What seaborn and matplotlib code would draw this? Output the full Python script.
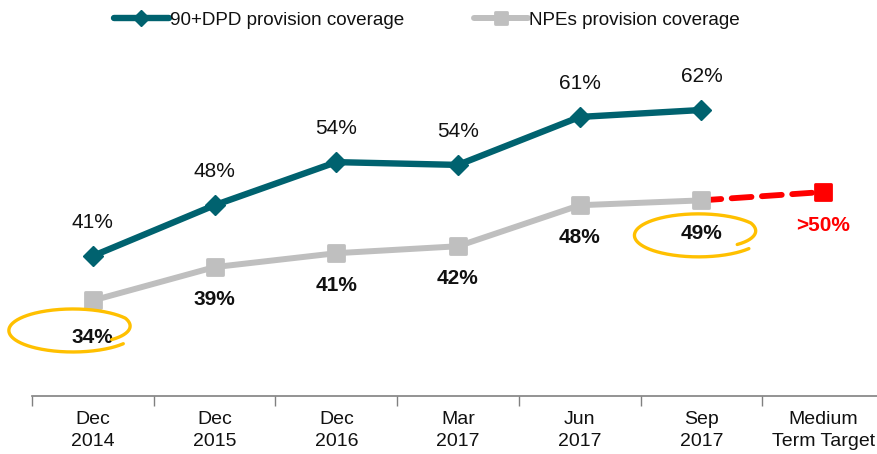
import numpy as np
import pandas as pd
import matplotlib
matplotlib.use("Agg")
import matplotlib.pyplot as plt
import seaborn as sns
from matplotlib.markers import MarkerStyle
from matplotlib.transforms import IdentityTransform

# ---- data ----
categories = ["Dec\n2014", "Dec\n2015", "Dec\n2016", "Mar\n2017", "Jun\n2017", "Sep\n2017", "Medium\nTerm Target"]
dpd_values = [41.0, 48.3, 54.5, 54.1, 61.0, 62.0]
dpd_labels = ["41%", "48%", "54%", "54%", "61%", "62%"]
npe_values = [34.6, 39.4, 41.4, 42.4, 48.3, 49.0]
npe_labels = ["34%", "39%", "41%", "42%", "48%", "49%"]
target_value = 50.2
target_label = ">50%"
series_names = ["90+DPD provision coverage", "NPEs provision coverage"]

TEAL = "#00626F"
GRAY = "#BFBFBF"
RED = "#FF0000"
YELLOW = "#FFC000"
TXT = "#111111"

sns.set_theme(style="white")
plt.rcParams["font.family"] = ["Liberation Sans", "DejaVu Sans"]

W, H = 878, 454
fig = plt.figure(figsize=(W / 100, H / 100), dpi=100)
ax = fig.add_axes([32 / W, (H - 396) / H, (884 - 32) / W, 396 / H])

x_dpd = np.arange(len(dpd_values))
x_npe = np.arange(len(npe_values))
df = pd.DataFrame({
    "x": np.concatenate([x_dpd, x_npe]),
    "y": dpd_values + npe_values,
    "series": [series_names[0]] * len(dpd_values) + [series_names[1]] * len(npe_values),
})

sq = MarkerStyle("s", joinstyle="round")

# target dashed line (under markers)
ax.plot([x_npe[-1], len(categories) - 1], [npe_values[-1], target_value],
        color=RED, lw=4.2, dashes=(3.4, 1.8), dash_capstyle="round", zorder=2)
ax.plot([len(categories) - 1], [target_value], marker=sq, ms=11.5, color=RED,
        mec=RED, mew=2, ls="none", zorder=4)

sns.lineplot(data=df[df.series == series_names[1]], x="x", y="y", ax=ax,
             color=GRAY, lw=4.3, marker=sq, markersize=11.5, markeredgecolor=GRAY,
             markeredgewidth=2, label=series_names[1], zorder=3)
sns.lineplot(data=df[df.series == series_names[0]], x="x", y="y", ax=ax,
             color=TEAL, lw=4.6, marker="D", markersize=10, markeredgecolor=TEAL,
             markeredgewidth=1, label=series_names[0], zorder=3)

ax.set_xlim(-0.5, len(categories) - 0.5)
ax.set_ylim(20.86, 77.82)

# labels
for xi, v, lab in zip(x_dpd, dpd_values, dpd_labels):
    ax.annotate(lab, (xi, v), xytext=(0, 24), textcoords="offset points",
                ha="center", va="center", fontsize=15, color=TXT)
for xi, v, lab in zip(x_npe, npe_values, npe_labels):
    dy = -27 if xi == 0 else -23.5
    ax.annotate(lab, (xi, v), xytext=(0, dy), textcoords="offset points",
                ha="center", va="center", fontsize=15, fontweight="bold", color=TXT)
ax.annotate(target_label, (len(categories) - 1, target_value), xytext=(0, -24),
            textcoords="offset points", ha="center", va="center", fontsize=15,
            fontweight="bold", color=RED)

# axes styling
for s in ["top", "right", "left"]:
    ax.spines[s].set_visible(False)
ax.spines["bottom"].set_color("#808080")
ax.spines["bottom"].set_linewidth(1.2)
ax.set_yticks([])
ax.set_xticks(np.arange(len(categories)))
ax.set_xticklabels(categories, fontsize=14, color=TXT, linespacing=1.38)
ax.tick_params(axis="x", which="major", bottom=False, length=0, pad=11)
ax.set_xticks(np.arange(len(categories) + 1) - 0.5, minor=True)
ax.tick_params(axis="x", which="minor", bottom=True, length=7, width=1,
               color="#808080", direction="out")
ax.set_xlabel("")
ax.set_ylabel("")

# legend
handles, labels = ax.get_legend_handles_labels()
order = [labels.index(series_names[0]), labels.index(series_names[1])]
leg = ax.legend([handles[i] for i in order], [labels[i] for i in order],
          loc="center", bbox_to_anchor=(427 / W, 1 - 20 / H), bbox_transform=fig.transFigure,
          ncol=2, frameon=False, fontsize=13.6, handlelength=2.9, handletextpad=0.05,
          columnspacing=3.7, borderaxespad=0, markerscale=0.8)
for t in leg.get_texts():
    t.set_color(TXT)

# hand-drawn highlight ellipses
fig.canvas.draw()
def spiral(px, py, a, b):
    t = np.deg2rad(np.linspace(-35, 322, 300))
    r = 0.74 + 0.26 * np.clip((t - t[0]) / np.deg2rad(70), 0, 1)
    xs = px + a * r * np.cos(t)
    ys = py + b * r * np.sin(t)
    ax.plot(xs, ys, color=YELLOW, lw=2.4, transform=IdentityTransform(),
            solid_capstyle="round", zorder=5, clip_on=False)

for idx, (dx, dy) in [(0, (-20, -30)), (5, (-3, -35))]:
    cx, cy = ax.transData.transform((x_npe[idx], npe_values[idx]))
    spiral(cx + dx, cy + dy, 64, 21.5)

fig.savefig("out.png", dpi=100)
